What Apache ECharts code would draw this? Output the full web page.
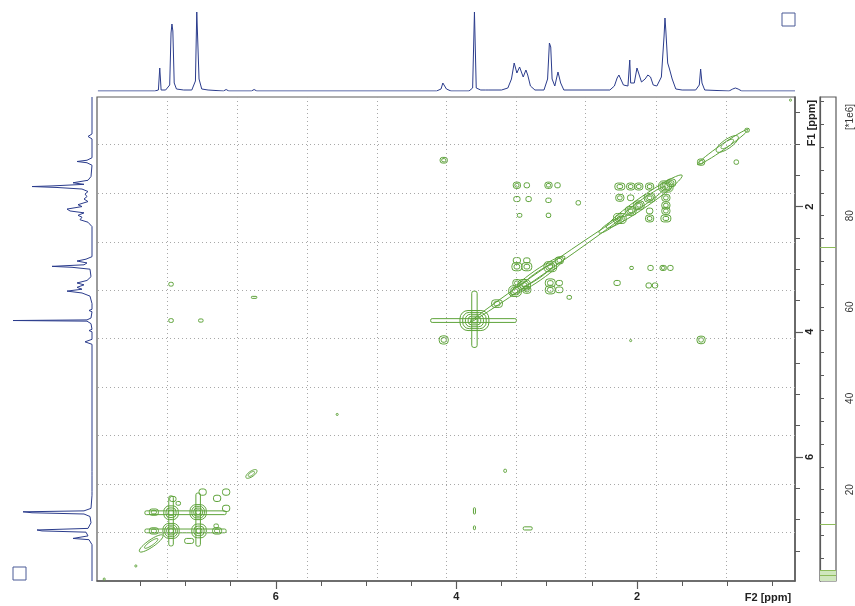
<!DOCTYPE html>
<html><head><meta charset="utf-8">
<script src="https://cdn.jsdelivr.net/npm/echarts@6/dist/echarts.min.js"></script>
<style>html,body{margin:0;padding:0;background:#fff}#c{width:855px;height:606px}</style>
</head><body><div id="c"></div>
<script>
// ---------- data ----------
const ppmRange = [0.25, 7.98];
const majorTicks = [2, 4, 6];
const minorTicks = [0.5, 1, 1.5, 2, 2.5, 3, 3.5, 4, 4.5, 5, 5.5, 6, 6.5, 7, 7.5];
const gridLinesPpm = [1.01, 1.79, 2.57, 3.34, 4.11, 4.88, 5.65, 6.43, 7.20];

// F2 projection (top): [ppm, intensity]
const topSpectrum = [[7.97,0],[7.34,0],[7.30,1],[7.285,23],[7.27,1],[7.22,1],[7.175,6],[7.16,58],[7.15,67],[7.14,60],[7.125,8],[7.10,2],[7.02,1],[6.93,1],[6.89,10],[6.875,79],[6.865,77],[6.85,12],[6.82,2],[6.75,1],[6.58,0],[6.55,1.5],[6.52,0],[6.27,0],[6.24,1.5],[6.21,0],[4.22,0],[4.17,2],[4.15,8],[4.13,7],[4.11,2],[4.06,0],[3.86,0],[3.82,3],[3.80,79],[3.78,3],[3.73,1],[3.68,1],[3.66,3],[3.64,1],[3.50,1],[3.43,3],[3.39,12],[3.36,28],[3.35,30],[3.33,18],[3.30,24],[3.28,19],[3.26,14],[3.23,21],[3.21,16],[3.18,5],[3.13,1],[3.03,1],[2.99,12],[2.97,48],[2.955,44],[2.94,12],[2.91,5],[2.875,19],[2.86,21],[2.845,8],[2.81,1],[2.30,1],[2.25,5],[2.22,13],[2.20,16],[2.18,14],[2.15,6],[2.10,5],[2.08,31],[2.07,8],[2.03,8],[2.00,23],[1.98,21],[1.95,9],[1.91,12],[1.88,16],[1.85,14],[1.82,6],[1.78,5],[1.73,14],[1.70,55],[1.69,73],[1.68,60],[1.66,28],[1.64,22],[1.625,24],[1.61,12],[1.57,2],[1.50,1],[1.35,1],[1.31,6],[1.295,22],[1.28,8],[1.25,1],[0.98,0],[0.94,2],[0.91,3],[0.88,2],[0.84,0],[0.25,0]];

// F1 projection (left): [ppm, intensity]
const leftSpectrum = [[0.25,0],[0.84,0],[0.88,4],[0.92,0],[1.22,0],[1.26,5],[1.28,15],[1.30,5],[1.34,0],[1.52,1],[1.58,4],[1.62,19],[1.645,8],[1.67,40],[1.68,60],[1.695,35],[1.72,10],[1.76,4],[1.80,7],[1.84,5],[1.88,8],[1.92,4],[1.97,14],[2.00,10],[2.04,25],[2.07,22],[2.10,8],[2.14,14],[2.17,10],[2.21,12],[2.25,4],[2.32,0],[2.80,0],[2.84,6],[2.87,15],[2.90,5],[2.93,8],[2.955,40],[2.97,20],[3.00,2],[3.12,1],[3.18,5],[3.22,15],[3.25,8],[3.29,15],[3.32,10],[3.35,25],[3.38,10],[3.43,2],[3.55,0],[3.64,0],[3.66,3],[3.68,0],[3.78,1],[3.81,5],[3.82,79],[3.83,5],[3.87,1],[3.96,0],[3.98,3],[4.00,0],[4.12,0],[4.16,7],[4.20,0],[6.23,0],[6.26,2],[6.29,0],[6.55,0],[6.58,2],[6.61,0],[6.82,1],[6.86,8],[6.875,69],[6.89,60],[6.91,8],[6.95,2],[7.05,1],[7.14,4],[7.165,55],[7.18,50],[7.20,6],[7.26,4],[7.30,19],[7.32,3],[7.40,0],[7.98,0]];

// diagonal ridges: [centre ppm, half length ppm, half width ppm, contour levels]
const diagonalPeaks = [[7.38,0.13,0.04,2],[6.27,0.06,0.03,2],[3.00,0.85,0.025,1],[3.10,0.3,0.06,2],[2.30,0.12,0.03,1],[1.92,0.42,0.06,2],[1.05,0.28,0.03,1],[1.00,0.12,0.05,2]];

// cross / diagonal peaks: [F2 ppm, F1 ppm, width F2, width F1, contour levels]
const crossPeaks = [
 // aromatic
 [7.16,7.18,0.18,0.24,4],[6.86,6.88,0.18,0.24,4],[7.16,6.89,0.16,0.22,3],[6.85,7.18,0.16,0.22,3],
 [7.00,6.89,0.90,0.06,1],[7.00,7.18,0.90,0.06,1],[7.16,7.02,0.05,0.80,1],[6.86,7.00,0.05,0.85,1],
 [6.81,6.56,0.08,0.10,1],[6.55,6.56,0.08,0.10,1],[6.65,6.66,0.08,0.10,1],[7.14,6.67,0.07,0.08,1],
 [7.08,6.74,0.05,0.06,1],[6.55,6.82,0.08,0.10,1],[7.35,6.88,0.10,0.10,2],[7.35,7.18,0.10,0.10,2],
 [6.65,7.18,0.10,0.10,2],[6.96,7.34,0.10,0.08,1],[6.66,7.10,0.05,0.06,1],[7.90,7.95,0.02,0.03,1],[7.55,7.74,0.02,0.03,1],
 // isolated
 [7.16,3.24,0.05,0.06,1],[7.16,3.82,0.05,0.06,1],[6.83,3.82,0.05,0.05,1],[6.24,3.45,0.06,0.03,1],
 [5.32,5.32,0.02,0.03,1],[3.46,6.22,0.03,0.05,1],[3.80,6.86,0.02,0.10,1],[3.80,7.13,0.02,0.06,1],
 [3.21,7.14,0.10,0.05,1],[4.14,1.26,0.08,0.09,2],[4.14,4.13,0.10,0.13,2],[1.29,4.13,0.09,0.12,2],
 [0.30,0.30,0.02,0.03,1],[2.07,4.14,0.02,0.03,1],[0.90,1.29,0.05,0.07,1],[0.78,0.78,0.05,0.06,1],
 // 3.80 singlet
 [3.80,3.82,0.32,0.32,5],[3.81,3.82,0.95,0.06,1],[3.80,3.80,0.06,0.90,1],
 // 3.4 - 2.8 block
 [3.35,3.35,0.14,0.17,3],[3.25,3.25,0.14,0.17,3],[2.96,2.96,0.14,0.16,3],[2.86,2.86,0.09,0.11,2],[3.55,3.55,0.12,0.12,2],
 [3.33,2.96,0.11,0.13,2],[3.22,2.96,0.11,0.13,2],[2.96,3.33,0.11,0.13,2],[2.96,3.22,0.11,0.13,2],
 [3.33,2.86,0.08,0.09,1],[2.86,3.33,0.08,0.09,1],[3.22,2.86,0.07,0.08,1],[2.86,3.22,0.07,0.08,1],
 [3.33,3.22,0.09,0.11,2],[3.22,3.33,0.09,0.11,2],[2.75,3.45,0.05,0.06,1],
 // 2.2 - 1.6 block
 [2.19,2.19,0.14,0.16,3],[2.07,2.07,0.12,0.14,3],[1.98,1.98,0.12,0.14,3],[1.86,1.86,0.12,0.14,3],[1.68,1.68,0.16,0.18,4],[1.62,1.62,0.10,0.12,2],
 [2.19,1.68,0.11,0.11,2],[1.68,2.19,0.11,0.11,2],[2.07,1.68,0.09,0.11,2],[1.68,2.07,0.09,0.11,2],
 [1.98,1.68,0.09,0.11,2],[1.68,1.98,0.09,0.11,2],[1.86,1.68,0.09,0.11,2],[1.68,1.86,0.09,0.11,2],
 [2.19,1.86,0.09,0.11,2],[1.86,2.19,0.09,0.11,2],[2.07,1.86,0.07,0.09,1],[1.86,2.07,0.07,0.09,1],
 [1.29,1.29,0.08,0.10,2],
 // between blocks
 [3.33,1.66,0.08,0.10,2],[3.22,1.66,0.06,0.08,1],[2.98,1.66,0.08,0.10,2],[2.88,1.66,0.06,0.08,1],
 [3.33,1.88,0.07,0.08,1],[3.20,1.88,0.06,0.08,1],[2.98,1.90,0.06,0.07,1],[2.65,1.94,0.05,0.07,1],
 [2.98,2.14,0.05,0.07,1],[3.30,2.14,0.05,0.06,1],
 [2.22,3.22,0.07,0.08,1],[1.87,3.26,0.06,0.08,1],[1.80,3.26,0.06,0.08,1],[1.71,2.98,0.07,0.08,2],
 [1.63,2.98,0.06,0.08,1],[1.85,2.98,0.06,0.08,1],[2.06,2.98,0.04,0.05,1]
];

const colorbarRange = [0, 106];
const colorbarTicks = [20, 40, 60, 80];
const colorbarMinorTicks = [5,10,15,20,25,30,35,40,45,50,55,60,65,70,75,80,85,90,95,100,105];
const contourLevels = [1.3, 2.4, 12.4, 73];

// ---------- chart ----------
const GREEN = '#5ea33a';
const BLUE = '#2b3c8c';
const AXIS = '#5a5a5a';
const FONT = 'Liberation Sans, Arial, sans-serif';

function crossRender(params, api) {
  const c = api.coord([api.value(0), api.value(1)]);
  const s = api.size([api.value(2), api.value(3)]);
  const n = api.value(4);
  const children = [];
  for (let k = 0; k < n; k++) {
    const f = 1 - k / (n + 0.3);
    const w = Math.max(Math.abs(s[0]) * f, 2), h = Math.max(Math.abs(s[1]) * f, 2);
    children.push({type: 'rect', shape: {x: c[0] - w / 2, y: c[1] - h / 2, width: w, height: h, r: Math.min(w, h) * 0.4},
      style: {fill: 'none', stroke: GREEN, lineWidth: 1}});
  }
  return {type: 'group', children};
}
function diagRender(params, api) {
  const cc = api.value(0), hl = api.value(2), hw = api.value(3), n = api.value(4);
  const p1 = api.coord([cc - hl, cc - hl]), p2 = api.coord([cc + hl, cc + hl]);
  const m = [(p1[0] + p2[0]) / 2, (p1[1] + p2[1]) / 2];
  const dx = p2[0] - p1[0], dy = p2[1] - p1[1];
  const len = Math.sqrt(dx * dx + dy * dy);
  const u = [dx / len, dy / len], v = [-u[1], u[0]];
  const bw = Math.abs(api.size([hw, hw])[0]);
  const children = [];
  for (let k = 0; k < n; k++) {
    const f = 1 - k / (n + 0.3);
    const a = len / 2 * f, b = Math.max(bw * f, 1.2);
    const pts = [];
    for (let i = 0; i < 36; i++) {
      const t = i / 36 * Math.PI * 2;
      pts.push([m[0] + a * Math.cos(t) * u[0] + b * Math.sin(t) * v[0], m[1] + a * Math.cos(t) * u[1] + b * Math.sin(t) * v[1]]);
    }
    children.push({type: 'polygon', shape: {points: pts}, style: {fill: 'none', stroke: GREEN, lineWidth: 1}});
  }
  return {type: 'group', children};
}

const chart = echarts.init(document.getElementById('c'), null, {renderer: 'canvas'});
const option = {
  animation: false,
  backgroundColor: '#fff',
  grid: [
    {left: 97, top: 97, width: 698, height: 484, show: true, borderColor: AXIS, borderWidth: 1.2, backgroundColor: 'transparent'},
    {left: 97, top: 11, width: 698, height: 80},
    {left: 0, top: 97, width: 92, height: 484},
    {left: 820, top: 97, width: 17, height: 484, show: true, borderColor: AXIS, borderWidth: 1.2}
  ],
  xAxis: [
    {gridIndex: 0, type: 'value', min: ppmRange[0], max: ppmRange[1], inverse: true, position: 'bottom',
     axisLine: {show: true, lineStyle: {color: AXIS, width: 1.5}},
     axisTick: {show: true, length: 5, customValues: minorTicks, lineStyle: {color: AXIS}},
     axisLabel: {show: true, customValues: majorTicks, margin: 10, fontSize: 11, fontWeight: 'bold', color: '#222', fontFamily: FONT},
     splitLine: {show: false}},
    {gridIndex: 0, type: 'value', min: ppmRange[0], max: ppmRange[1], inverse: true, position: 'bottom', offset: 0,
     axisLine: {show: false}, axisTick: {show: true, length: 8, customValues: majorTicks, lineStyle: {color: AXIS, width: 1.2}},
     axisLabel: {show: false}, splitLine: {show: false}},
    {gridIndex: 1, type: 'value', min: ppmRange[0], max: ppmRange[1], inverse: true, show: false},
    {gridIndex: 2, type: 'value', min: 0, max: 92, inverse: true, show: false},
    {gridIndex: 3, type: 'value', min: 0, max: 1, show: false}
  ],
  yAxis: [
    {gridIndex: 0, type: 'value', min: ppmRange[0], max: ppmRange[1], inverse: true, position: 'right',
     axisLine: {show: true, lineStyle: {color: AXIS, width: 1.5}},
     axisTick: {show: true, length: 5, customValues: minorTicks, lineStyle: {color: AXIS}},
     axisLabel: {show: true, customValues: majorTicks, rotate: 90, margin: 9, fontSize: 11, fontWeight: 'bold', color: '#222', fontFamily: FONT},
     splitLine: {show: false}},
    {gridIndex: 0, type: 'value', min: ppmRange[0], max: ppmRange[1], inverse: true, position: 'right', offset: 0,
     axisLine: {show: false}, axisTick: {show: true, length: 8, customValues: majorTicks, lineStyle: {color: AXIS, width: 1.2}},
     axisLabel: {show: false}, splitLine: {show: false}},
    {gridIndex: 1, type: 'value', min: 0, max: 80, show: false},
    {gridIndex: 2, type: 'value', min: ppmRange[0], max: ppmRange[1], inverse: true, show: false},
    {gridIndex: 3, type: 'value', min: colorbarRange[0], max: colorbarRange[1], position: 'right',
     axisLine: {show: true, lineStyle: {color: AXIS, width: 1.2}},
     axisTick: {show: true, length: 4, customValues: colorbarMinorTicks, lineStyle: {color: AXIS}},
     axisLabel: {show: true, customValues: colorbarTicks, rotate: 90, margin: 9, fontSize: 10, color: '#333', fontFamily: FONT},
     splitLine: {show: false}}
  ],
  series: [
    {type: 'custom', name: 'cross', xAxisIndex: 0, yAxisIndex: 0, clip: true, silent: true,
     data: crossPeaks, encode: {x: 0, y: 1}, renderItem: crossRender,
     markLine: {silent: true, symbol: ['none', 'none'], label: {show: false},
       lineStyle: {type: [1, 3], color: '#a8a8a8', width: 1},
       data: gridLinesPpm.map(v => ({xAxis: v})).concat(gridLinesPpm.map(v => ({yAxis: v})))}},
    {type: 'custom', name: 'diag', xAxisIndex: 0, yAxisIndex: 0, clip: true, silent: true,
     data: diagonalPeaks.map(d => [d[0], d[0], d[1], d[2], d[3]]), encode: {x: 0, y: 1}, renderItem: diagRender},
    {type: 'line', xAxisIndex: 2, yAxisIndex: 2, data: topSpectrum, showSymbol: false, silent: true,
     lineStyle: {color: BLUE, width: 1}},
    {type: 'line', xAxisIndex: 3, yAxisIndex: 3, data: leftSpectrum.map(p => [p[1], p[0]]), showSymbol: false, silent: true,
     lineStyle: {color: BLUE, width: 1}},
    {type: 'line', xAxisIndex: 4, yAxisIndex: 4, data: [], silent: true,
     markArea: {silent: true, itemStyle: {color: '#cfe6bd'}, data: [[{yAxis: 0}, {yAxis: contourLevels[1]}]]},
     markLine: {silent: true, symbol: ['none', 'none'], label: {show: false},
       lineStyle: {type: 'solid', color: '#8dbb5a', width: 1},
       data: contourLevels.map(v => ({yAxis: v}))}}
  ],
  graphic: [
    {type: 'text', x: 812, y: 123, rotation: Math.PI / 2, style: {text: 'F1 [ppm]', font: 'bold 11px ' + FONT, fill: '#222', align: 'center', verticalAlign: 'middle'}},
    {type: 'text', x: 768, y: 598, style: {text: 'F2 [ppm]', font: 'bold 11px ' + FONT, fill: '#222', align: 'center', verticalAlign: 'middle'}},
    {type: 'text', x: 850, y: 117, rotation: Math.PI / 2, style: {text: '[*1e6]', font: '10px ' + FONT, fill: '#333', align: 'center', verticalAlign: 'middle'}},
    {type: 'rect', shape: {x: 782, y: 13, width: 13, height: 13}, style: {fill: 'none', stroke: '#4a5b96', lineWidth: 1}},
    {type: 'rect', shape: {x: 13, y: 567, width: 13, height: 13}, style: {fill: 'none', stroke: '#4a5b96', lineWidth: 1}}
  ]
};
chart.setOption(option);
</script>
</body></html>
